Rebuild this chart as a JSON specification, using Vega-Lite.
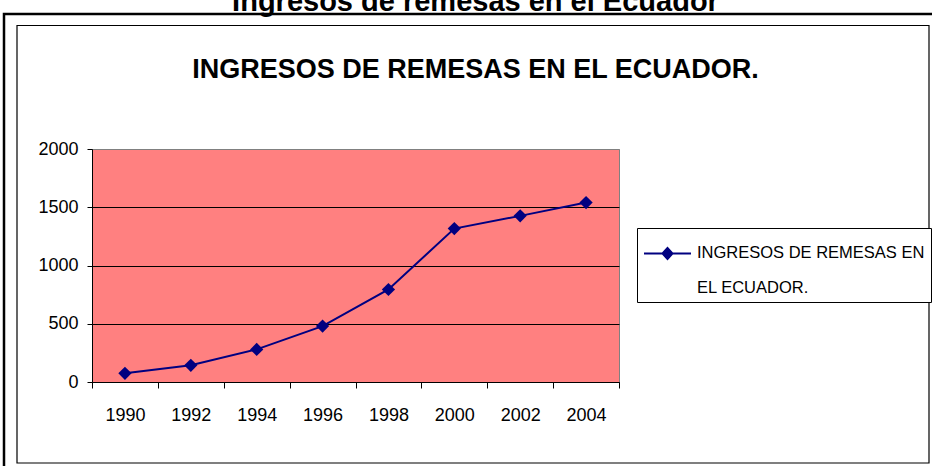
{
  "$schema": "https://vega.github.io/schema/vega-lite/v6.json",
  "width": 527,
  "height": 233,
  "autosize": {"type": "none"},
  "padding": {"left": 92, "top": 149, "right": 313, "bottom": 84},
  "background": "white",
  "title": {
    "text": "Ingresos de remesas en el Ecuador",
    "subtitle": "INGRESOS DE REMESAS EN EL ECUADOR.",
    "anchor": "middle",
    "frame": "group",
    "dx": 120,
    "offset": -70,
    "fontSize": 29,
    "fontWeight": "bold",
    "font": "Liberation Sans",
    "color": "black",
    "subtitleFontSize": 27,
    "subtitleFontWeight": "bold",
    "subtitleFont": "Liberation Sans",
    "subtitleColor": "black",
    "subtitlePadding": 40
  },
  "data": {
    "values": [
      {"year": "1990", "value": 75, "series": "INGRESOS DE REMESAS EN EL ECUADOR."},
      {"year": "1992", "value": 143, "series": "INGRESOS DE REMESAS EN EL ECUADOR."},
      {"year": "1994", "value": 280, "series": "INGRESOS DE REMESAS EN EL ECUADOR."},
      {"year": "1996", "value": 480, "series": "INGRESOS DE REMESAS EN EL ECUADOR."},
      {"year": "1998", "value": 794, "series": "INGRESOS DE REMESAS EN EL ECUADOR."},
      {"year": "2000", "value": 1317, "series": "INGRESOS DE REMESAS EN EL ECUADOR."},
      {"year": "2002", "value": 1426, "series": "INGRESOS DE REMESAS EN EL ECUADOR."},
      {"year": "2004", "value": 1540, "series": "INGRESOS DE REMESAS EN EL ECUADOR."}
    ]
  },
  "layer": [
    {
      "data": {"values": [{}]},
      "mark": {"type": "rect", "fillOpacity": 0, "stroke": "black", "strokeWidth": 2.5},
      "encoding": {
        "x": {"value": -88},
        "x2": {"value": 850},
        "y": {"value": -135},
        "y2": {"value": 330}
      }
    },
    {
      "data": {"values": [{}]},
      "mark": {"type": "rect", "fillOpacity": 0, "stroke": "black", "strokeWidth": 1.2},
      "encoding": {
        "x": {"value": -75},
        "x2": {"value": 837},
        "y": {"value": -123.5},
        "y2": {"value": 314}
      }
    },
    {
      "mark": {
        "type": "line",
        "strokeWidth": 2,
        "point": {"shape": "diamond", "size": 175, "filled": true}
      },
      "encoding": {
        "x": {
          "field": "year",
          "type": "ordinal",
          "scale": {"paddingInner": 0, "paddingOuter": 0},
          "axis": {
            "title": null,
            "labelAngle": 0,
            "tickBand": "extent",
            "tickSize": 6,
            "tickColor": "black",
            "domainColor": "black",
            "labelFontSize": 18,
            "labelPadding": 18,
            "labelColor": "black",
            "grid": false
          }
        },
        "y": {
          "field": "value",
          "type": "quantitative",
          "scale": {"domain": [0, 2000], "nice": false},
          "axis": {
            "title": null,
            "values": [0, 500, 1000, 1500, 2000],
            "format": "d",
            "tickSize": 5,
            "tickColor": "black",
            "domainColor": "black",
            "labelFontSize": 18,
            "labelPadding": 9,
            "labelColor": "black",
            "grid": true,
            "gridColor": {"condition": {"test": "datum.value === 2000", "value": "#808080"}, "value": "black"},
            "gridOpacity": 1,
            "gridWidth": 1
          }
        },
        "color": {
          "field": "series",
          "type": "nominal",
          "scale": {"range": ["#000080"]},
          "legend": {
            "title": null,
            "orient": "none",
            "legendX": 545,
            "legendY": 79,
            "strokeColor": "black",
            "fillColor": "white",
            "padding": 6,
            "symbolType": "M-1.27,0L1.27,0M-0.27,0L0,-0.3L0.27,0L0,0.3Z",
            "symbolSize": 1369,
            "symbolOffset": 5,
            "symbolFillColor": "#000080",
            "symbolStrokeColor": "#000080",
            "symbolStrokeWidth": 2,
            "labelOffset": 10,
            "labelFontSize": 16.5,
            "labelColor": "black",
            "labelLimit": 400,
            "labelExpr": "['INGRESOS DE REMESAS EN', 'EL ECUADOR.']",
            "labelBaseline": "top",
            "encode": {
              "labels": {"update": {"lineHeight": {"value": 35}, "dy": {"value": -9}}},
              "symbols": {"update": {"fill": {"value": "#000080"}}}
            }
          }
        }
      }
    }
  ],
  "config": {
    "font": "Liberation Sans",
    "view": {"fill": "#FF8080", "stroke": "#808080", "strokeWidth": 1}
  }
}
